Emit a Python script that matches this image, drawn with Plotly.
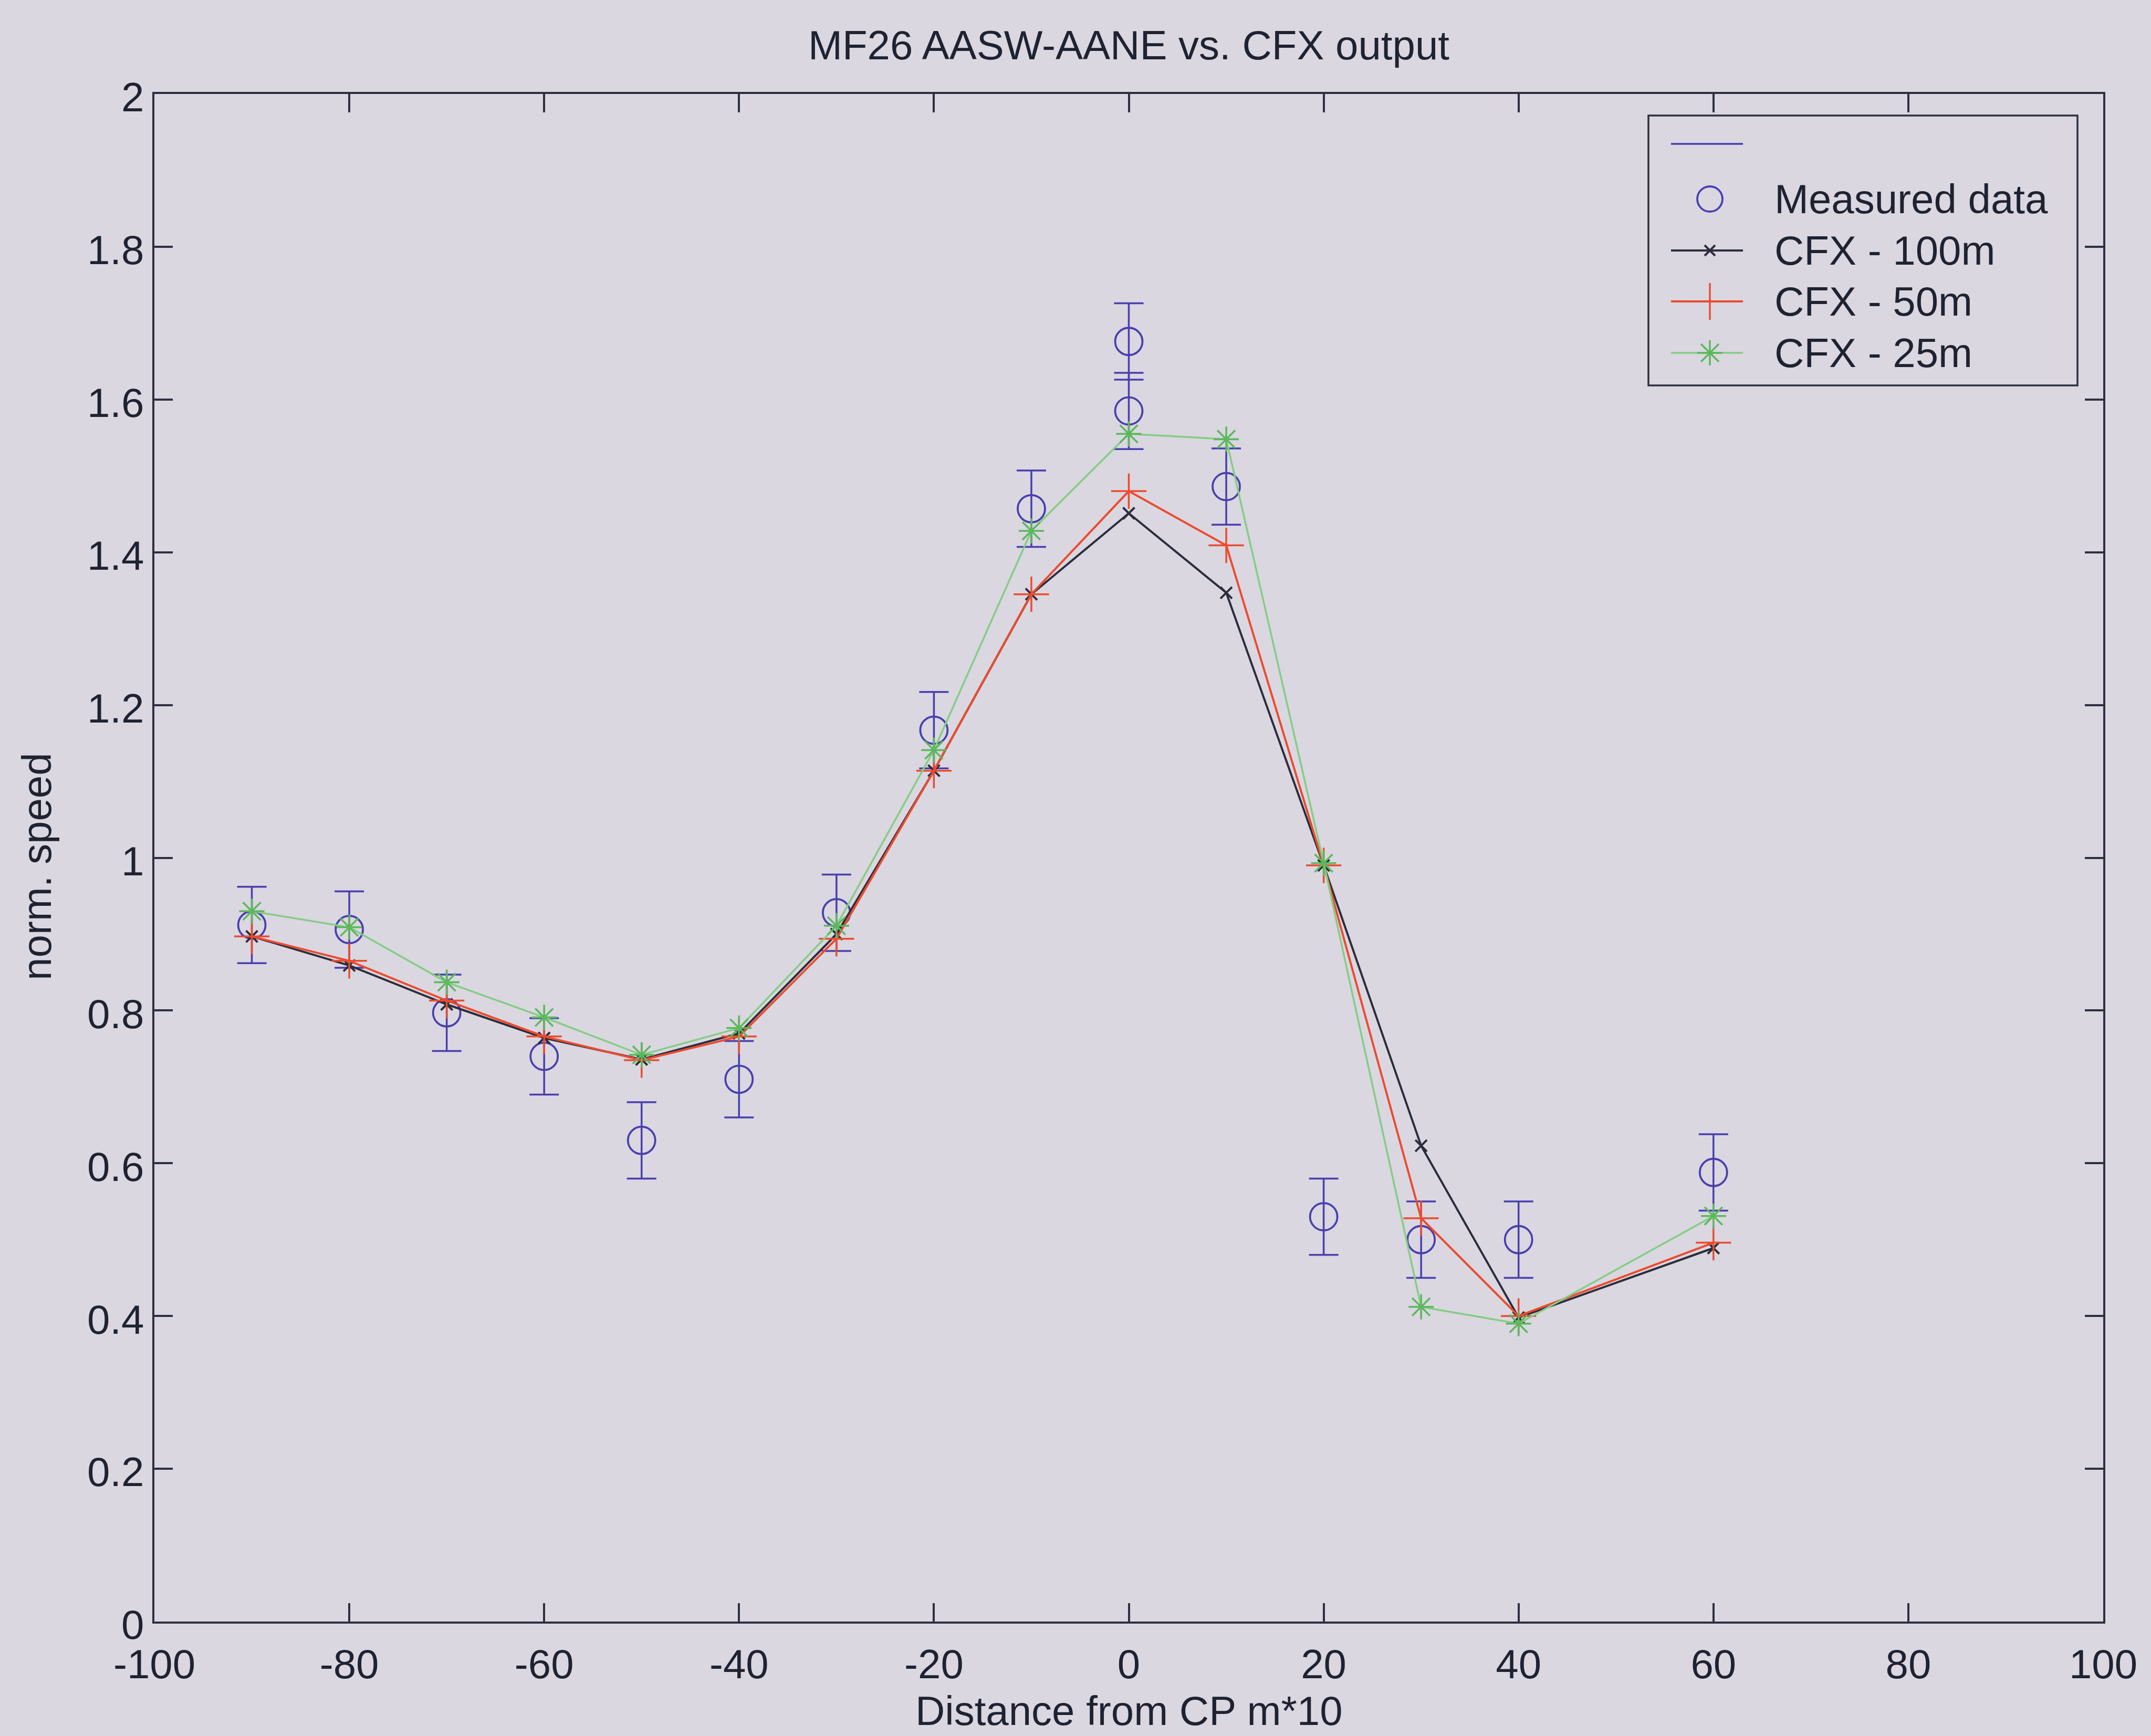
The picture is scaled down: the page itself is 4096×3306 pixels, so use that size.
import plotly.graph_objects as go

# ---------------- data ----------------
x_meas = [-90, -80, -70, -60, -50, -40, -30, -20, -10, 0, 0, 10, 20, 30, 40, 60]
y_meas = [0.912, 0.906, 0.797, 0.740, 0.630, 0.710, 0.928, 1.167, 1.457, 1.676, 1.585,
          1.486, 0.530, 0.500, 0.500, 0.588]
err_meas = [0.05, 0.05, 0.05, 0.05, 0.05, 0.05, 0.05, 0.05, 0.05, 0.05, 0.05,
            0.05, 0.05, 0.05, 0.05, 0.05]

x_cfx = [-90, -80, -70, -60, -50, -40, -30, -20, -10, 0, 10, 20, 30, 40, 60]
cfx_100 = [0.897, 0.859, 0.808, 0.764, 0.736, 0.770, 0.900, 1.114, 1.345, 1.451, 1.347,
           0.990, 0.623, 0.398, 0.489]
cfx_50 = [0.897, 0.865, 0.813, 0.766, 0.735, 0.766, 0.894, 1.114, 1.345, 1.480, 1.409,
          0.990, 0.528, 0.400, 0.496]
cfx_25 = [0.930, 0.909, 0.837, 0.791, 0.742, 0.777, 0.911, 1.141, 1.428, 1.555, 1.548,
          0.993, 0.412, 0.390, 0.531]

x_ticks = [-100, -80, -60, -40, -20, 0, 20, 40, 60, 80, 100]
x_tick_text = ["-100", "-80", "-60", "-40", "-20", "0", "20", "40", "60", "80", "100"]
y_ticks = [0, 0.2, 0.4, 0.6, 0.8, 1, 1.2, 1.4, 1.6, 1.8, 2]
y_tick_text = ["0", "0.2", "0.4", "0.6", "0.8", "1", "1.2", "1.4", "1.6", "1.8", "2"]

legend_labels = ["", "Measured data", "CFX - 100m", "CFX - 50m", "CFX - 25m"]

title_text = "MF26 AASW-AANE vs. CFX output"
x_title = "Distance from CP m*10"
y_title = "norm. speed"

# ---------------- style ----------------
W, H = 4096, 3306
ML, MR, MT, MB = 294, 91, 179, 218
FONT = "Arial, Liberation Sans, sans-serif"
FS = 78
BG = "#dad7e1"
INK = "#1f2230"
AXC = "#2e3040"
BLUE = "#4a3fae"
BLACK = "#2b2d3c"
RED = "#ec4b2f"
GREEN = "#84cd84"
GREEN_M = "#5cb85c"

PW = W - ML - MR
PH = H - MT - MB


def px_x(p):
    return (p - ML) / PW


def px_y(p):
    return (H - MB - p) / PH


fig = go.Figure()

# measured data with error bars
fig.add_trace(go.Scatter(
    x=x_meas, y=y_meas, mode="markers", name="Measured data",
    marker=dict(symbol="circle-open", size=52, color=BLUE, line=dict(width=3.8, color=BLUE)),
    error_y=dict(type="data", array=err_meas, visible=True, color=BLUE, thickness=3.5, width=28),
    showlegend=False,
))

fig.add_trace(go.Scatter(
    x=x_cfx, y=cfx_100, mode="lines+markers", name="CFX - 100m",
    line=dict(color=BLACK, width=4),
    marker=dict(symbol="x-thin", size=22, line=dict(width=4, color=BLACK), color=BLACK),
    showlegend=False,
))
fig.add_trace(go.Scatter(
    x=x_cfx, y=cfx_50, mode="lines+markers", name="CFX - 50m",
    line=dict(color=RED, width=4),
    marker=dict(symbol="cross-thin", size=48, line=dict(width=3.5, color=RED), color=RED),
    showlegend=False,
))
fig.add_trace(go.Scatter(
    x=x_cfx, y=cfx_25, mode="lines+markers", name="CFX - 25m",
    line=dict(color=GREEN, width=3.5),
    marker=dict(symbol="asterisk", size=40, line=dict(width=3.5, color=GREEN_M), color=GREEN_M),
    showlegend=False,
))

# ---------------- custom legend (MATLAB-style box) ----------------
row_px = [274, 379, 477, 574, 672]
row_y = [px_y(p) for p in row_px]
lx0, lx1, lxm, ltx = px_x(3182), px_x(3319), px_x(3256), px_x(3377)

leg_lines = [
    dict(color=BLUE, width=3.5),
    None,
    dict(color=BLACK, width=4),
    dict(color=RED, width=4),
    dict(color=GREEN, width=3.5),
]
leg_markers = [
    None,
    dict(symbol="circle-open", size=48, color=BLUE, line=dict(width=3.8, color=BLUE)),
    dict(symbol="x-thin", size=20, color=BLACK, line=dict(width=4, color=BLACK)),
    dict(symbol="cross-thin", size=50, color=RED, line=dict(width=3.5, color=RED)),
    dict(symbol="asterisk", size=40, color=GREEN_M, line=dict(width=3.5, color=GREEN_M)),
]
for i in range(len(legend_labels)):
    if leg_lines[i] is not None:
        fig.add_trace(go.Scatter(x=[lx0, lx1], y=[row_y[i], row_y[i]], mode="lines",
                                 line=leg_lines[i], xaxis="x2", yaxis="y2",
                                 showlegend=False, hoverinfo="skip"))
    if leg_markers[i] is not None:
        fig.add_trace(go.Scatter(x=[lxm], y=[row_y[i]], mode="markers",
                                 marker=leg_markers[i], xaxis="x2", yaxis="y2",
                                 showlegend=False, hoverinfo="skip"))
    if legend_labels[i]:
        fig.add_annotation(x=ltx, y=row_y[i], xref="paper", yref="paper", text=legend_labels[i],
                           showarrow=False, xanchor="left", yanchor="middle",
                           font=dict(family=FONT, size=FS, color=INK))

fig.add_shape(type="rect", xref="paper", yref="paper",
              x0=px_x(3139), x1=px_x(3956), y0=px_y(734), y1=px_y(220),
              line=dict(color=AXC, width=3.5), fillcolor="rgba(0,0,0,0)", layer="above")

# ---------------- titles ----------------
fig.add_annotation(x=0.5, y=px_y(86), xref="paper", yref="paper", text=title_text,
                   showarrow=False, xanchor="center", yanchor="middle",
                   font=dict(family=FONT, size=FS, color=INK))
fig.add_annotation(x=0.5, y=px_y(3258), xref="paper", yref="paper", text=x_title,
                   showarrow=False, xanchor="center", yanchor="middle",
                   font=dict(family=FONT, size=FS, color=INK))
fig.add_annotation(x=px_x(70), y=px_y(1650), xref="paper", yref="paper", text=y_title,
                   showarrow=False, xanchor="center", yanchor="middle", textangle=-90,
                   font=dict(family=FONT, size=FS, color=INK))

axis_common = dict(
    showline=True, linecolor=AXC, linewidth=4, mirror="ticks",
    ticks="inside", ticklen=35, tickwidth=3.5, tickcolor=AXC,
    showgrid=False, zeroline=False,
    tickfont=dict(family=FONT, size=FS, color=INK),
)

fig.update_layout(
    width=W, height=H,
    margin=dict(l=ML, r=MR, t=MT, b=MB, pad=0),
    paper_bgcolor=BG, plot_bgcolor=BG,
    font=dict(family=FONT, size=FS, color=INK),
    showlegend=False,
    xaxis=dict(range=[-100, 100], tickvals=x_ticks, ticktext=x_tick_text,
               ticklabelstandoff=10, **axis_common),
    yaxis=dict(range=[0, 2], tickvals=y_ticks, ticktext=y_tick_text,
               ticklabelshift=6, **axis_common),
    xaxis2=dict(range=[0, 1], overlaying="x", visible=False, fixedrange=True),
    yaxis2=dict(range=[0, 1], overlaying="y", visible=False, fixedrange=True),
)

fig.write_html("out.html")
